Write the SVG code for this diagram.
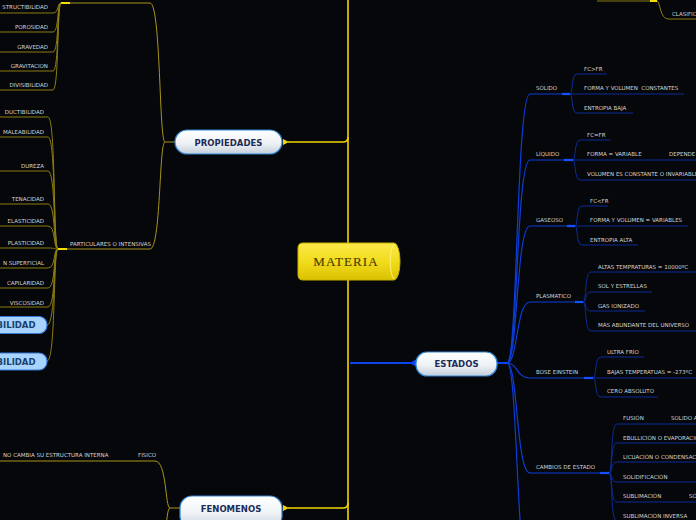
<svg xmlns="http://www.w3.org/2000/svg" width="696" height="520" viewBox="0 0 696 520">
<defs>
<linearGradient id="gw" x1="0" y1="0" x2="0" y2="1"><stop offset="0" stop-color="#ffffff"/><stop offset="0.55" stop-color="#eef2f6"/><stop offset="1" stop-color="#c4cfda"/></linearGradient>
<linearGradient id="gy" x1="0" y1="0" x2="0" y2="1"><stop offset="0" stop-color="#fbe94a"/><stop offset="0.5" stop-color="#f2dc1c"/><stop offset="1" stop-color="#d9c200"/></linearGradient>
<style>
.y1{fill:none;stroke:#f0d600;stroke-width:1.6}
.y2{fill:none;stroke:#a8951a;stroke-width:1}
.y3{fill:none;stroke:#8c7c12;stroke-width:1}
.yb{fill:none;stroke:#f5dc00;stroke-width:2}
.b1{fill:none;stroke:#0c44ee;stroke-width:2}
.b2{fill:none;stroke:#0d3ed8;stroke-width:1.2}
.b3{fill:none;stroke:#0b2c96;stroke-width:1}
.bb{fill:none;stroke:#1450ff;stroke-width:2.2}
.lf{font-family:"DejaVu Sans",Verdana,sans-serif;font-size:5.5px;fill:#d6d6d6;white-space:pre}
.nd{font-family:"DejaVu Sans",Verdana,sans-serif;font-size:8.5px;font-weight:bold;fill:#1b2b58;text-anchor:middle}
.pill{fill:url(#gw);stroke:#2f86d6;stroke-width:1.2}
.bp{fill:#a8d3ff;stroke:#3578d8;stroke-width:1.2}
.bpt{font-family:"DejaVu Sans",Verdana,sans-serif;font-size:8.5px;font-weight:bold;fill:#17406b;text-anchor:end}
.e{text-anchor:end}
</style>
</defs>
<rect x="0" y="0" width="696" height="520" fill="#05070a"/>

<g id="connectors">
<!-- main trunk -->
<path class="y1" d="M348,-5 V525"/>
<path class="y1" d="M288,142 H343 Q348,142 348,137"/>
<path class="y1" d="M288,508 H343 Q348,508 348,503"/>
<path class="b1" d="M350,363 H411"/>
<polygon points="283,139 283,145 289,142" fill="#f0d600"/>
<polygon points="283,505 283,511 289,508" fill="#f0d600"/>
<polygon points="416,359.5 416,366.5 409,363" fill="#0c44ee"/>

<!-- PROPIEDADES branches -->
<path class="y2" d="M175,142 H165 C159,142 161,3 150,3 H70"/>
<path class="y2" d="M165,142 C159,142 161,249 150,249 H67"/>
<path class="yb" d="M61,3 H70"/>
<path class="yb" d="M58,249 H67"/>
<!-- top group leaves -->
<path class="y3" d="M61,3 C57,3 59,13 53,13 H-5"/>
<path class="y3" d="M61,3 C57,3 59,32 53,32 H-5"/>
<path class="y3" d="M61,3 C57,3 59,52 53,52 H-5"/>
<path class="y3" d="M61,3 C57,3 59,71 53,71 H-5"/>
<path class="y3" d="M61,3 C57,3 59,90 53,90 H-5"/>
<!-- particulares leaves -->
<path class="y3" d="M58,249 C53,249 56,117 48,117 H-5"/>
<path class="y3" d="M58,249 C53,249 56,137 48,137 H-5"/>
<path class="y3" d="M58,249 C53,249 56,171 48,171 H-5"/>
<path class="y3" d="M58,249 C53,249 56,204 48,204 H-5"/>
<path class="y3" d="M58,249 C53,249 56,226 48,226 H-5"/>
<path class="y3" d="M58,249 C53,249 56,248 48,248 H-5"/>
<path class="y3" d="M58,249 C53,249 56,268 48,268 H-5"/>
<path class="y3" d="M58,249 C53,249 56,288 48,288 H-5"/>
<path class="y3" d="M58,249 C53,249 56,307 48,307 H-5"/>
<path class="y3" d="M58,249 C53,249 56,325 47,325"/>
<path class="y3" d="M58,249 C53,249 56,361 47,361"/>

<!-- FENOMENOS branches -->
<path class="y2" d="M180,508 H170 C165,508 167,461 155,461 H-5"/>
<path class="y2" d="M170,508 C165,508 167,560 155,560"/>

<!-- top right -->
<path class="y3" d="M597,1 H650"/>
<path class="yb" d="M650,1 H657"/>
<path class="y3" d="M657,1 C660,1 660,19 668,19 H700"/>

<!-- ESTADOS branches -->
<path class="b1" d="M497,363 H507"/>
<path class="b2" d="M507,363 C518,363 516,94 530,94 H562"/>
<path class="b2" d="M507,363 C518,363 516,160 530,160 H564"/>
<path class="b2" d="M507,363 C518,363 516,226 530,226 H567"/>
<path class="b2" d="M507,363 C518,363 516,302 530,302 H575"/>
<path class="b2" d="M507,363 C518,363 516,378 530,378 H584"/>
<path class="b2" d="M507,363 C518,363 516,473 530,473 H600"/>
<path class="b2" d="M507,363 C518,363 516,580 530,580"/>
<path class="bb" d="M562,94 H570"/>
<path class="bb" d="M564,160 H573"/>
<path class="bb" d="M567,226 H575"/>
<path class="bb" d="M575,302 H583"/>
<path class="bb" d="M584,378 H593"/>
<path class="bb" d="M600,473 H609"/>
<!-- solido -->
<path class="b3" d="M570,94 C573,94 571,74 577,74 H607"/>
<path class="b3" d="M570,94 H684"/>
<path class="b3" d="M570,94 C573,94 571,113 577,113 H633"/>
<!-- liquido -->
<path class="b3" d="M573,160 C576,160 574,140 580,140 H610"/>
<path class="b3" d="M573,160 H700"/>
<path class="b3" d="M573,160 C576,160 574,180 580,180 H700"/>
<!-- gaseoso -->
<path class="b3" d="M575,226 C578,226 576,206 582,206 H608"/>
<path class="b3" d="M575,226 H688"/>
<path class="b3" d="M575,226 C578,226 576,245 582,245 H638"/>
<!-- plasmatico -->
<path class="b3" d="M583,302 C587,302 584,272 591,272 H700"/>
<path class="b3" d="M583,302 C587,302 584,292 591,292 H652"/>
<path class="b3" d="M583,302 C587,302 584,311 591,311 H645"/>
<path class="b3" d="M583,302 C587,302 584,331 591,331 H700"/>
<!-- bose -->
<path class="b3" d="M593,378 C597,378 594,357 601,357 H644"/>
<path class="b3" d="M593,378 H700"/>
<path class="b3" d="M593,378 C597,378 594,397 601,397 H658"/>
<!-- cambios -->
<path class="b3" d="M609,473 C613,473 610,424 617,424 H700"/>
<path class="b3" d="M609,473 C613,473 610,443 617,443 H700"/>
<path class="b3" d="M609,473 C613,473 610,462 617,462 H700"/>
<path class="b3" d="M609,473 C613,473 610,482 617,482 H700"/>
<path class="b3" d="M609,473 C613,473 610,502 617,502 H700"/>
<path class="b3" d="M609,473 C613,473 610,521 617,521 H700"/>
</g>

<g id="materia">
<path d="M303,243 H394 A6,18.5 0 0 1 394,280 H303 Q298,280 298,275 V248 Q298,243 303,243 Z" fill="url(#gy)" stroke="#c9b000" stroke-width="1"/>
<path d="M394,244 A5,18 0 0 0 394,279" fill="none" stroke="#fff27a" stroke-width="1"/>
<text x="346" y="266" text-anchor="middle" font-family="'Liberation Serif','DejaVu Serif',serif" font-size="13" letter-spacing="1.1" fill="#3d3400" stroke="#7a6a00" stroke-width="0.2">MATERIA</text>
</g>

<g id="propiedades">
<rect class="pill" x="175" y="130" width="107" height="24" rx="12"/>
<text class="nd" x="228.5" y="145.5">PROPIEDADES</text>
</g>

<g id="estados">
<rect class="pill" x="416" y="352" width="81" height="24" rx="11"/>
<text class="nd" x="456.5" y="367">ESTADOS</text>
</g>

<g id="fenomenos">
<rect class="pill" x="180" y="496" width="102" height="32" rx="12"/>
<text class="nd" x="231" y="511.5">FENOMENOS</text>
</g>

<g id="generales-leaves">
<text class="lf e" x="48" y="9">STRUCTIBILIDAD</text>
<text class="lf e" x="48" y="29">POROSIDAD</text>
<text class="lf e" x="48" y="48.5">GRAVEDAD</text>
<text class="lf e" x="48" y="68">GRAVITACION</text>
<text class="lf e" x="48" y="87">DIVISIBILIDAD</text>
</g>

<g id="particulares">
<text class="lf" x="70" y="246">PARTICULARES O INTENSIVAS</text>
<text class="lf e" x="44" y="114">DUCTIBILIDAD</text>
<text class="lf e" x="44" y="134">MALEABILIDAD</text>
<text class="lf e" x="44" y="167.5">DUREZA</text>
<text class="lf e" x="44" y="200.5">TENACIDAD</text>
<text class="lf e" x="44" y="223">ELASTICIDAD</text>
<text class="lf e" x="44" y="245">PLASTICIDAD</text>
<text class="lf e" x="44" y="265">N SUPERFICIAL</text>
<text class="lf e" x="44" y="284.5">CAPILARIDAD</text>
<text class="lf e" x="44" y="304.5">VISCOSIDAD</text>
</g>

<g id="pill1">
<rect class="bp" x="-60" y="316.5" width="107" height="17" rx="8"/>
<text class="bpt" x="35.5" y="328.3">IBILIDAD</text>
</g>
<g id="pill2">
<rect class="bp" x="-60" y="353" width="107" height="17" rx="8"/>
<text class="bpt" x="35.5" y="364.8">IBILIDAD</text>
</g>

<g id="fenomenos-leaves">
<text class="lf" x="3" y="457">NO CAMBIA SU ESTRUCTURA INTERNA</text>
<text class="lf" x="138" y="457">FISICO</text>
</g>

<g id="clasificacion">
<text class="lf" x="672" y="16">CLASIFICACIÓN</text>
</g>

<g id="solido">
<text class="lf" x="536" y="90">SÓLIDO</text>
<text class="lf" x="584" y="71">FC&gt;FR</text>
<text class="lf" x="584" y="90">FORMA Y VOLUMEN  CONSTANTES</text>
<text class="lf" x="584" y="110">ENTROPIA BAJA</text>
</g>
<g id="liquido">
<text class="lf" x="536" y="156">LÍQUIDO</text>
<text class="lf" x="587" y="137">FC=FR</text>
<text class="lf" x="587" y="156">FORMA = VARIABLE</text>
<text class="lf" x="669" y="156">DEPENDE</text>
<text class="lf" x="587" y="176">VOLUMEN ES CONSTANTE O INVARIABLE</text>
</g>
<g id="gaseoso">
<text class="lf" x="536" y="222">GASEOSO</text>
<text class="lf" x="590" y="203">FC&lt;FR</text>
<text class="lf" x="590" y="222">FORMA Y VOLUMEN = VARIABLES</text>
<text class="lf" x="590" y="242">ENTROPIA ALTA</text>
</g>
<g id="plasmatico">
<text class="lf" x="536" y="298">PLASMATICO</text>
<text class="lf" x="598" y="269">ALTAS TEMPRATURAS = 10000ºC</text>
<text class="lf" x="598" y="288">SOL Y ESTRELLAS</text>
<text class="lf" x="598" y="307.5">GAS IONIZADO</text>
<text class="lf" x="598" y="327">MÁS ABUNDANTE DEL UNIVERSO</text>
</g>
<g id="bose">
<text class="lf" x="536" y="374">BOSE EINSTEIN</text>
<text class="lf" x="607" y="354">ULTRA FRÍO</text>
<text class="lf" x="607" y="374">BAJAS TEMPERATUAS = -273ºC</text>
<text class="lf" x="607" y="393">CERO ABSOLUTO</text>
</g>
<g id="cambios">
<text class="lf" x="536" y="469">CAMBIOS DE ESTADO</text>
<text class="lf" x="623" y="420">FUSIÓN</text>
<text class="lf" x="671" y="420">SOLIDO A LÍQUIDO</text>
<text class="lf" x="623" y="440">EBULLICIÓN O EVAPORACIÓN</text>
<text class="lf" x="623" y="459">LICUACIÓN O CONDENSACIÓN</text>
<text class="lf" x="623" y="479">SOLIDIFICACIÓN</text>
<text class="lf" x="623" y="498">SUBLIMACIÓN</text>
<text class="lf" x="689" y="498">SÓLIDO A GAS</text>
<text class="lf" x="623" y="518">SUBLIMACIÓN INVERSA</text>
</g>
</svg>
